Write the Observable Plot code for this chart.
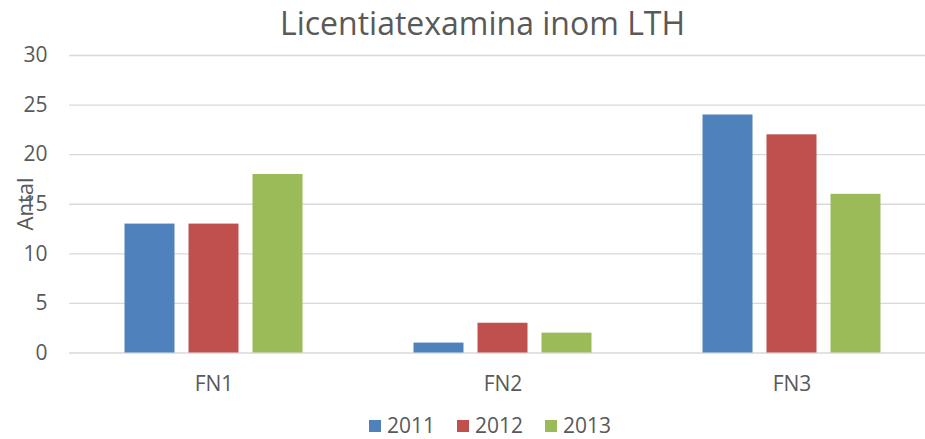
<!DOCTYPE html>
<html>
<head>
<meta charset="utf-8">
<script src="https://cdn.jsdelivr.net/npm/d3@7"></script>
<script src="https://cdn.jsdelivr.net/npm/@observablehq/plot@0.6"></script>
<style>
  html, body { margin: 0; padding: 0; background: #fff; }
  #wrap { position: relative; width: 925px; height: 439px; overflow: hidden; font-family: "Open Sans", sans-serif; color: #595959; }
  #title { position: absolute; left: 0; width: 965px; top: 3px; text-align: center; font-size: 32px; line-height: 40px; }
  #ylabel { position: absolute; left: 24px; top: 204px; font-size: 22px; transform: translate(-50%, -50%) rotate(-90deg); white-space: nowrap; }
  #legend { position: absolute; left: 369px; top: 413px; font-size: 21px; line-height: 25px; display: flex; white-space: nowrap; }
  .item { display: flex; align-items: center; margin-right: 22px; }
  .sw { width: 12px; height: 12px; margin-right: 6px; }
</style>
</head>
<body>
<div id="wrap">
  <div id="chart"></div>
  <div id="title">Licentiatexamina inom LTH</div>
  <div id="ylabel">Antal</div>
  <div id="legend"></div>
</div>
<script>
const groups = ["FN1", "FN2", "FN3"];
const years = ["2011", "2012", "2013"];
const values2011 = [13, 1, 24];
const values2012 = [13, 3, 22];
const values2013 = [18, 2, 16];
const yTicks = [0, 5, 10, 15, 20, 25, 30];
const colors = ["#4F81BD", "#C0504D", "#9BBB59"];

const series = [values2011, values2012, values2013];
const data = [];
groups.forEach((g, i) => years.forEach((yr, j) => data.push({group: g, year: yr, value: series[j][i]})));

const chart = Plot.plot({
  width: 925,
  height: 439,
  marginTop: 55,
  marginBottom: 86.5,
  marginLeft: 68.5,
  marginRight: 0,
  style: {fontFamily: "Open Sans", fontSize: "21px", color: "#595959", background: "transparent"},
  facet: {data, x: "group"},
  fx: {domain: groups, range: [68.5, 935.5], padding: 0, label: null, tickSize: 0, tickPadding: 23},
  x: {domain: years, paddingInner: 0.21875, paddingOuter: 0.867, axis: null},
  y: {domain: [0, 30], ticks: yTicks, label: null, tickSize: 0, tickPadding: 22},
  color: {domain: years, range: colors},
  marks: [
    Plot.ruleY(yTicks, {stroke: "#d9d9d9", strokeWidth: 1.4}),
    Plot.barY(data, {x: "year", y: "value", fill: "year"})
  ]
});
chart.querySelectorAll("text").forEach(t => t.setAttribute("font-size", "21"));
document.getElementById("chart").appendChild(chart);

const legend = document.getElementById("legend");
years.forEach((yr, i) => {
  const it = document.createElement("div");
  it.className = "item";
  it.innerHTML = `<span class="sw" style="background:${colors[i]}"></span><span>${yr}</span>`;
  legend.appendChild(it);
});
</script>
</body>
</html>
